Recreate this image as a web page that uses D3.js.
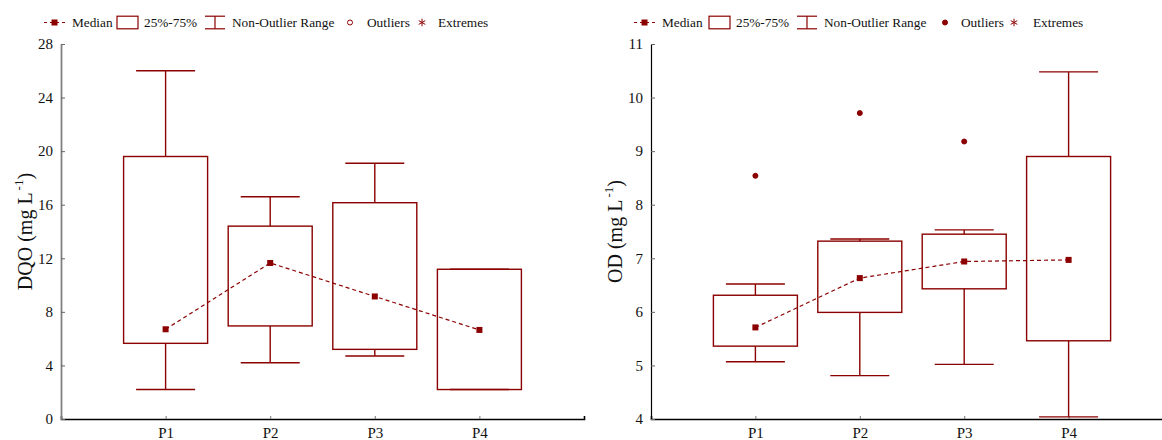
<!DOCTYPE html>
<html>
<head>
<meta charset="utf-8">
<script src="https://cdn.jsdelivr.net/npm/d3@7"></script>
<style>
  body { margin: 0; background: #fff; }
  svg { display: block; }
  svg text { font-family: "Liberation Serif", "Times New Roman", "DejaVu Serif", serif !important; }
</style>
</head>
<body>
<svg id="chart" width="1162" height="440"></svg>
<script>
// Sampling points
const categories = ["P1", "P2", "P3", "P4"];

// DQO (mg L-1) box statistics
const dqoMin    = [2.2, 4.2, 4.7, 2.2];
const dqoQ1     = [5.65, 6.95, 5.2, 2.2];
const dqoMedian = [6.7, 11.65, 9.15, 6.65];
const dqoQ3     = [19.6, 14.4, 16.15, 11.18];
const dqoMax    = [26.0, 16.6, 19.1, 11.18];
const dqoOutliers = [[], [], [], []];
const dqoTicks  = [0, 4, 8, 12, 16, 20, 24, 28];

// OD (mg L-1) box statistics
const odMin    = [5.07, 4.81, 5.02, 4.04];
const odQ1     = [5.36, 5.99, 6.43, 5.46];
const odMedian = [5.71, 6.63, 6.94, 6.97];
const odQ3     = [6.31, 7.32, 7.45, 8.90];
const odMax    = [6.52, 7.36, 7.53, 10.48];
const odOutliers = [[8.54], [9.71], [9.18], []];
const odTicks  = [4, 5, 6, 7, 8, 9, 10, 11];

const legendLabels = ["Median", "25%-75%", "Non-Outlier Range", "Outliers", "Extremes"];

const RED = "#8b0000";
const svg = d3.select("#chart");
svg.append("rect").attr("width", 1162).attr("height", 440).attr("fill", "#fff");

function drawPanel(p) {
  const g = svg.append("g");
  const x = d3.scalePoint().domain(categories).range([p.x0, p.x1]).padding(1);
  const y = d3.scaleLinear().domain([p.ticks[0], p.ticks[p.ticks.length - 1]]).range([419, 44]);

  // axes
  const xAxis = g.append("g").attr("transform", "translate(0,419)")
    .call(d3.axisBottom(x).tickSize(-3).tickSizeOuter(-3).tickPadding(8));
  xAxis.select(".domain").attr("stroke", "#000").attr("stroke-width", 1.6);
  xAxis.selectAll(".tick line").attr("stroke", "#777");
  xAxis.selectAll("text").attr("font-size", 15).attr("fill", "#111");

  const yAxis = g.append("g").attr("transform", `translate(${p.x0},0)`)
    .call(d3.axisLeft(y).tickValues(p.ticks).tickFormat(d3.format("d"))
      .tickSize(-4).tickSizeOuter(0).tickPadding(8));
  yAxis.select(".domain").attr("stroke", p.yAxisColor).attr("stroke-width", p.yAxisWidth);
  yAxis.selectAll(".tick line").attr("stroke", "#666");
  yAxis.selectAll("text").attr("font-size", 15).attr("fill", "#111");

  // axis title with superscript
  const title = g.append("text")
    .attr("transform", `translate(${p.titleX},231.5) rotate(-90)`)
    .attr("text-anchor", "middle").attr("font-size", 20).attr("fill", "#111");
  title.append("tspan").text(p.title + " (mg L");
  title.append("tspan").attr("font-size", 13).attr("dx", 2).attr("dy", -9).text("-1");
  title.append("tspan").attr("dy", 9).text(")");

  const bx = 42, cap = 29.5;
  const idx = d3.range(categories.length);
  const marks = g.append("g").attr("stroke", RED).attr("fill", "none").attr("stroke-width", 1.4);

  // whiskers
  idx.forEach(i => {
    const cx = x(categories[i]);
    marks.append("line").attr("x1", cx).attr("x2", cx).attr("y1", y(p.max[i])).attr("y2", y(p.q3[i]));
    marks.append("line").attr("x1", cx).attr("x2", cx).attr("y1", y(p.q1[i])).attr("y2", y(p.min[i]));
    marks.append("line").attr("x1", cx - cap).attr("x2", cx + cap).attr("y1", y(p.max[i])).attr("y2", y(p.max[i]));
    marks.append("line").attr("x1", cx - cap).attr("x2", cx + cap).attr("y1", y(p.min[i])).attr("y2", y(p.min[i]));
  });

  // boxes
  marks.selectAll("rect.box").data(idx).join("rect").attr("class", "box")
    .attr("x", i => x(categories[i]) - bx)
    .attr("y", i => y(p.q3[i]))
    .attr("width", bx * 2)
    .attr("height", i => y(p.q1[i]) - y(p.q3[i]));

  // median trend line
  const line = d3.line().x(i => x(categories[i])).y(i => y(p.median[i]));
  g.append("path").attr("d", line(idx)).attr("fill", "none").attr("stroke", RED)
    .attr("stroke-width", 1.2).attr("stroke-dasharray", "4,3");

  g.selectAll("rect.med").data(idx).join("rect").attr("class", "med")
    .attr("x", i => x(categories[i]) - 3).attr("y", i => y(p.median[i]) - 3)
    .attr("width", 6).attr("height", 6).attr("fill", RED);

  // outliers
  idx.forEach(i => {
    p.outliers[i].forEach(v => {
      g.append("circle").attr("cx", x(categories[i])).attr("cy", y(v)).attr("r", 2.5)
        .attr("fill", p.filledOutliers ? RED : "#fff").attr("stroke", RED).attr("stroke-width", 1);
    });
  });

  // legend
  const L = p.legend, ly = 22.5;
  const lg = svg.append("g").attr("font-size", 13.3).attr("fill", "#111");
  // median
  lg.append("line").attr("x1", L[0]).attr("x2", L[0] + 21).attr("y1", ly).attr("y2", ly)
    .attr("stroke", RED).attr("stroke-width", 1.2).attr("stroke-dasharray", "3,3");
  lg.append("rect").attr("x", L[0] + 7.5).attr("y", ly - 3).attr("width", 6).attr("height", 6).attr("fill", RED);
  // box
  lg.append("rect").attr("x", L[2]).attr("y", ly - 6.3).attr("width", 21).attr("height", 12.6)
    .attr("fill", "none").attr("stroke", RED).attr("stroke-width", 1.2);
  // whisker
  const wc = L[4] + 10;
  lg.append("line").attr("x1", L[4]).attr("x2", L[4] + 20).attr("y1", ly - 6.3).attr("y2", ly - 6.3).attr("stroke", RED).attr("stroke-width", 1.2);
  lg.append("line").attr("x1", L[4]).attr("x2", L[4] + 20).attr("y1", ly + 6.3).attr("y2", ly + 6.3).attr("stroke", RED).attr("stroke-width", 1.2);
  lg.append("line").attr("x1", wc).attr("x2", wc).attr("y1", ly - 6.3).attr("y2", ly + 6.3).attr("stroke", RED).attr("stroke-width", 1.2);
  // outlier
  lg.append("circle").attr("cx", L[6]).attr("cy", ly).attr("r", 2.5)
    .attr("fill", p.filledOutliers ? RED : "#fff").attr("stroke", RED).attr("stroke-width", 1);
  // extremes
  lg.append("path").attr("d", d3.symbol(d3.symbolAsterisk, 40)())
    .attr("transform", `translate(${L[8]},${ly})`).attr("stroke", RED).attr("stroke-width", 1).attr("fill", "none");

  [1, 3, 5, 7, 9].forEach((k, j) => {
    lg.append("text").attr("x", L[k]).attr("y", ly + 4.5).text(legendLabels[j]);
  });
}

drawPanel({
  x0: 61, x1: 584, ticks: dqoTicks, title: "DQO", titleX: 31.5,
  min: dqoMin, q1: dqoQ1, median: dqoMedian, q3: dqoQ3, max: dqoMax, outliers: dqoOutliers,
  filledOutliers: false, yAxisColor: "#808080", yAxisWidth: 1.8,
  legend: [44, 72, 117, 144, 205, 232, 350, 367, 422, 438]
});

drawPanel({
  x0: 651, x1: 1173, ticks: odTicks, title: "OD", titleX: 621.5,
  min: odMin, q1: odQ1, median: odMedian, q3: odQ3, max: odMax, outliers: odOutliers,
  filledOutliers: true, yAxisColor: "#000", yAxisWidth: 1.2,
  legend: [634, 662, 709, 736, 797, 824, 945, 961, 1014, 1033]
});
</script>
</body>
</html>
